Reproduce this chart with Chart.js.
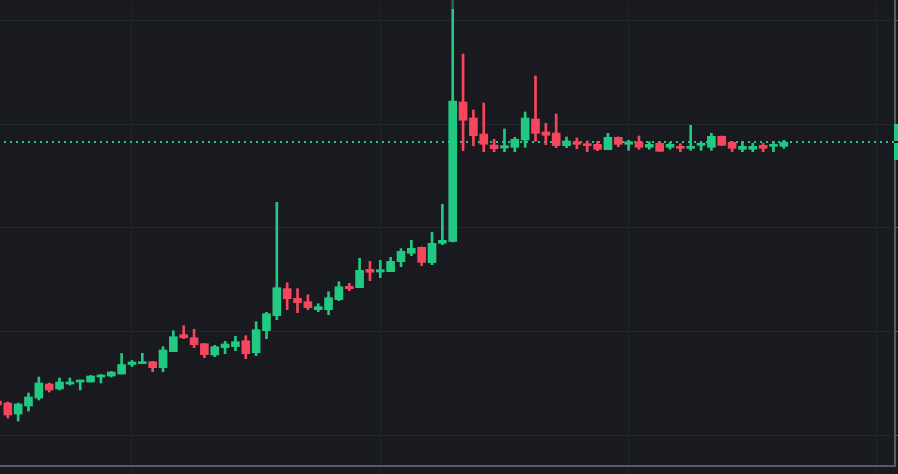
<!DOCTYPE html>
<html>
<head>
<meta charset="utf-8">
<script src="https://cdn.jsdelivr.net/npm/chart.js@4.4.0/dist/chart.umd.min.js"></script>
<style>
html,body{margin:0;padding:0;background:#181a1f;overflow:hidden}
canvas{display:block}
</style>
</head>
<body>
<canvas id="c" width="898" height="474"></canvas>
<script>
// ---- data (bar number, OHLC) ----
const barIndex = [-1,0,1,2,3,4,5,6,7,8,9,10,11,12,13,14,15,16,17,18,19,20,21,22,23,24,25,26,27,28,29,30,31,32,33,34,35,36,37,38,39,40,41,42,43,44,45,46,47,48,49,50,51,52,53,54,55,56,57,58,59,60,61,62,63,64,65,66,67,68,69,70,71,72,73,74,75];
const openPrices = [65,63,52,60,68,82,77,82,84,84,89,90,92,101.5,102.3,104.3,98.3,114.3,131.3,128.3,122.3,111,118.3,119.3,125.3,113.3,135.3,150.3,177.3,167.7,164.3,156.3,156.3,166.3,179.7,178.3,196.7,194,194.3,204.3,212.7,218.7,203.3,222.7,224.7,364,348,332,321,318,318.7,326,347,334,333,320.3,324.3,322.3,321.7,316.3,328.7,321.7,324,318.7,322.7,318.7,319.7,317.7,320.7,318.7,329.7,323.7,316.7,316.7,320.7,319.7,319.7];
const highPrices = [66,64,63,73,89,83,88,88,86,90.5,91.5,94.5,112.5,105.5,112.7,104.5,119.3,135.3,140.3,136.7,122.5,120.7,124.7,129.7,130.3,144.3,153.7,263.7,183.3,177.3,171.3,162.3,174.3,184.3,182.7,207.7,204.7,205.7,208.7,217.3,225.7,219,233.7,261.7,481,412,356,363,326.7,337,328.7,354,390,342.7,352,329,328,325,324.7,332.7,329,325.7,330,324.3,324.3,323.7,322.3,340.7,323.7,332.7,330,324.7,324.7,322.7,322.7,324.7,325.7];
const lowPrices = [60,48,45,55,66,74,76,81,76,84,83,89,92,99.5,102.3,94.3,94.3,114.3,127.3,118.3,108.3,109.3,112.3,115.3,107.3,110.3,127.3,146.3,156.3,153.3,156.3,154.3,151.3,165.3,175.3,178.3,185.3,188.3,194.3,199.3,210.3,200.3,201.3,221.3,224,315.3,320.3,314.3,314.3,314.3,314.3,318.7,324.7,321.3,318.3,318.3,317.3,314.3,315.3,316.3,319.3,315.7,316.7,316.7,314.7,316.7,314.3,315.7,315.7,315.7,320.5,314.3,314.3,314.3,314.3,314.3,317.7];
const closePrices = [61,51,62,69,83,76,84,84,86,90,91,94,101.5,104,104.3,98.3,116,129.3,128.3,121.3,111.3,119.3,122,124.3,112.3,136.3,152.3,178.3,167.3,163.3,158.3,159.3,168.3,179.3,177.3,195.7,193.7,196.3,204.7,214.7,217.7,203.7,222.7,225.7,365,345.7,330.3,321.7,317.3,320.3,326.7,348,332.7,330.7,320.3,325,321.7,320.3,316.7,328.7,321.7,324.3,318.7,321.7,314.7,321.7,317.7,319.7,322.7,329.7,320.7,317.7,319.7,319.7,317.7,321.7,323.7];

// tick values for the grid (no labels shown in the original)
const xGridTicks = [12, 36, 60, 84];
const yGridTicks = [31, 134.6, 238.2, 341.8, 445.4];
const xRange = [-0.754, 85.745];
const yRange = [0, 466];

// ---- styles ----
const BG = '#181a1f';
const GRID = '#22252b';
const AXIS = '#555a63';
const UP = '#22c983';
const DOWN = '#f6465d';

const lastPrice = closePrices[closePrices.length - 1];
const colors = openPrices.map((o, i) => closePrices[i] >= o ? UP : DOWN);

const bodyData = barIndex.map((x, i) => ({x: x, y: [openPrices[i], closePrices[i]]}));
const wickData = barIndex.map((x, i) => ({x: x, y: [lowPrices[i], highPrices[i]]}));

const chartDecor = {
  id: 'chartDecor',
  beforeDraw(chart) {
    const ctx = chart.ctx;
    ctx.save();
    ctx.fillStyle = BG;
    ctx.fillRect(0, 0, chart.width, chart.height);
    ctx.restore();
  },
  beforeDatasetsDraw(chart) {
    const ctx = chart.ctx, area = chart.chartArea;
    const y = Math.round(chart.scales.y.getPixelForValue(lastPrice));
    ctx.save();
    ctx.strokeStyle = UP;
    ctx.lineWidth = 2;
    ctx.setLineDash([2, 4]);
    ctx.beginPath();
    ctx.moveTo(area.left - 2, y);
    ctx.lineTo(area.right - 1, y);
    ctx.stroke();
    ctx.restore();
  },
  afterDatasetsDraw(chart) {
    // faint toolbar shade along the very top edge
    const ctx = chart.ctx, area = chart.chartArea;
    ctx.save();
    ctx.fillStyle = 'rgba(24,26,31,0.55)';
    ctx.fillRect(area.left, 0, area.right - area.left - 1, 9);
    ctx.restore();
  },
  afterDraw(chart) {
    const ctx = chart.ctx, area = chart.chartArea;
    const y = Math.round(chart.scales.y.getPixelForValue(lastPrice));
    ctx.save();
    ctx.fillStyle = UP;
    ctx.fillRect(area.right - 1, y - 18, chart.width - area.right + 1, 36);
    ctx.fillStyle = '#0b0d10';
    ctx.fillRect(area.right - 1, y - 1, chart.width - area.right + 1, 2);
    ctx.restore();
  }
};

new Chart(document.getElementById('c'), {
  type: 'bar',
  data: {
    datasets: [
      {
        label: 'body',
        data: bodyData,
        backgroundColor: colors,
        borderWidth: 0,
        barThickness: 8,
        grouped: false,
        order: 0
      },
      {
        label: 'wick',
        data: wickData,
        backgroundColor: colors,
        borderWidth: 0,
        barThickness: 2,
        grouped: false,
        order: 1
      }
    ]
  },
  options: {
    responsive: false,
    animation: false,
    devicePixelRatio: 1,
    layout: {padding: 0},
    plugins: {legend: {display: false}, tooltip: {enabled: false}},
    scales: {
      x: {
        type: 'linear',
        position: 'bottom',
        offset: false,
        min: xRange[0],
        max: xRange[1],
        afterBuildTicks: s => { s.ticks = xGridTicks.map(v => ({value: v})); },
        afterFit: s => { s.height = 8; },
        ticks: {display: false},
        grid: {offset: false, color: GRID, lineWidth: 1, drawTicks: true, tickLength: 8, tickColor: GRID},
        border: {display: true, color: AXIS, width: 2}
      },
      y: {
        type: 'linear',
        position: 'right',
        min: yRange[0],
        max: yRange[1],
        afterBuildTicks: s => { s.ticks = yGridTicks.map(v => ({value: v})); },
        afterFit: s => { s.width = 3; },
        ticks: {display: false},
        grid: {color: GRID, lineWidth: 1, drawTicks: true, tickLength: 3, tickColor: AXIS},
        border: {display: true, color: AXIS, width: 2}
      }
    }
  },
  plugins: [chartDecor]
});
</script>
</body>
</html>
